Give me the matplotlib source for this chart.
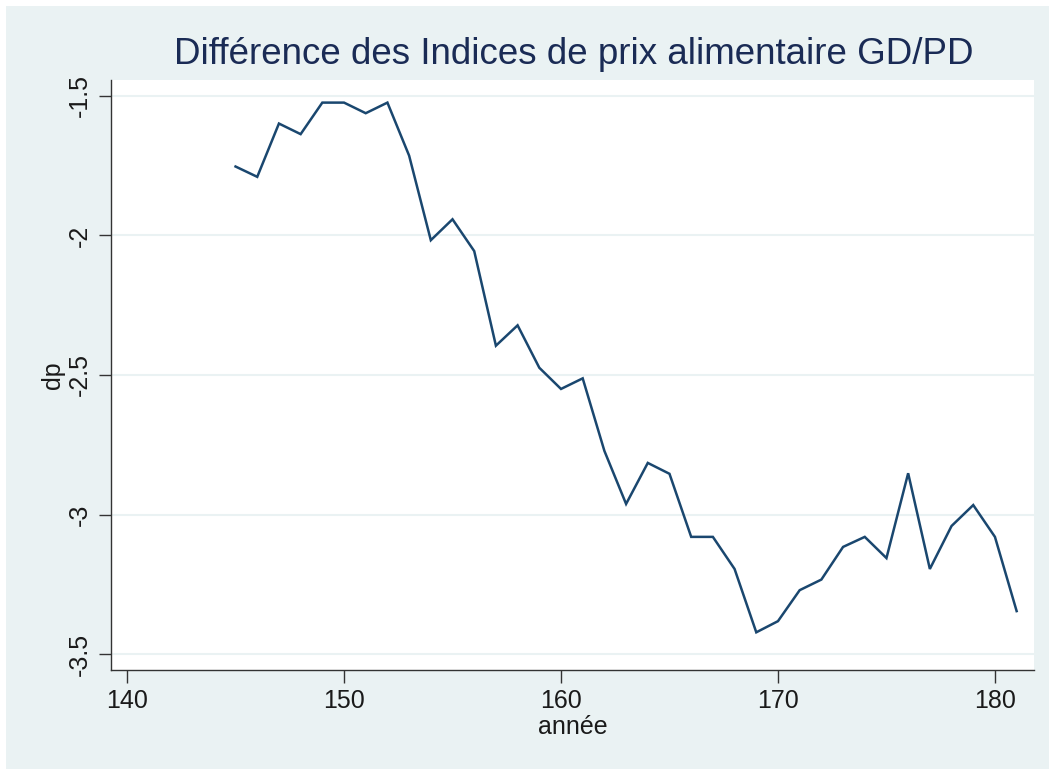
import matplotlib
matplotlib.use("Agg")
import matplotlib.pyplot as plt
from matplotlib.patches import Rectangle

plt.rcParams['font.family'] = ['Liberation Sans', 'DejaVu Sans']

years = list(range(145, 182))
dp = [-1.753, -1.790, -1.599, -1.637, -1.524, -1.524, -1.562, -1.524, -1.714, -2.017,
      -1.942, -2.056, -2.395, -2.322, -2.474, -2.550, -2.512, -2.772, -2.962, -2.815,
      -2.854, -3.080, -3.080, -3.195, -3.422, -3.382, -3.271, -3.233, -3.116, -3.080,
      -3.156, -2.852, -3.195, -3.041, -2.966, -3.080, -3.346]
xticks = [140, 150, 160, 170, 180]
yticks = [-1.5, -2, -2.5, -3, -3.5]
ytick_labels = ['-1.5', '-2', '-2.5', '-3', '-3.5']

W, H = 1049, 769
bg = '#EAF2F3'
fig = plt.figure(figsize=(W / 100, H / 100), dpi=100, facecolor='white')
fig.patches.append(Rectangle((6 / W, 0), 1 - 6 / W, 1 - 6 / H, transform=fig.transFigure,
                             facecolor=bg, edgecolor='none', zorder=-10))

ax = fig.add_axes([111 / W, 1 - 670 / H, (1034 - 111) / W, (670 - 80) / H])
ax.set_facecolor('white')
ax.plot(years, dp, color='#1a476f', lw=1.8, solid_joinstyle='miter')

ax.set_xlim(139.26, 181.8)
ax.set_ylim(-3.557, -1.443)
ax.set_xticks(xticks)
ax.set_yticks(yticks)
ax.set_yticklabels(ytick_labels, rotation=90, va='center')
ax.grid(axis='y', color=bg, lw=1.5)
ax.set_axisbelow(True)
for s in ['top', 'right']:
    ax.spines[s].set_visible(False)
for s in ['left', 'bottom']:
    ax.spines[s].set_color('#333333')
    ax.spines[s].set_linewidth(1.0)
ax.tick_params(axis='both', colors='#333333', labelcolor='#1a1a1a', length=9, width=1.0,
               labelsize=18, pad=5)
ax.set_xlabel('année', fontsize=18, color='#1a1a1a', labelpad=1)
ax.set_ylabel('dp', fontsize=18, color='#1a1a1a', labelpad=2)
fig.text(0.547, 1 - 54 / H, 'Différence des Indices de prix alimentaire GD/PD',
         ha='center', va='center', fontsize=26.5, color='#1a2b55')

fig.savefig('out.png', dpi=100, facecolor='white')
